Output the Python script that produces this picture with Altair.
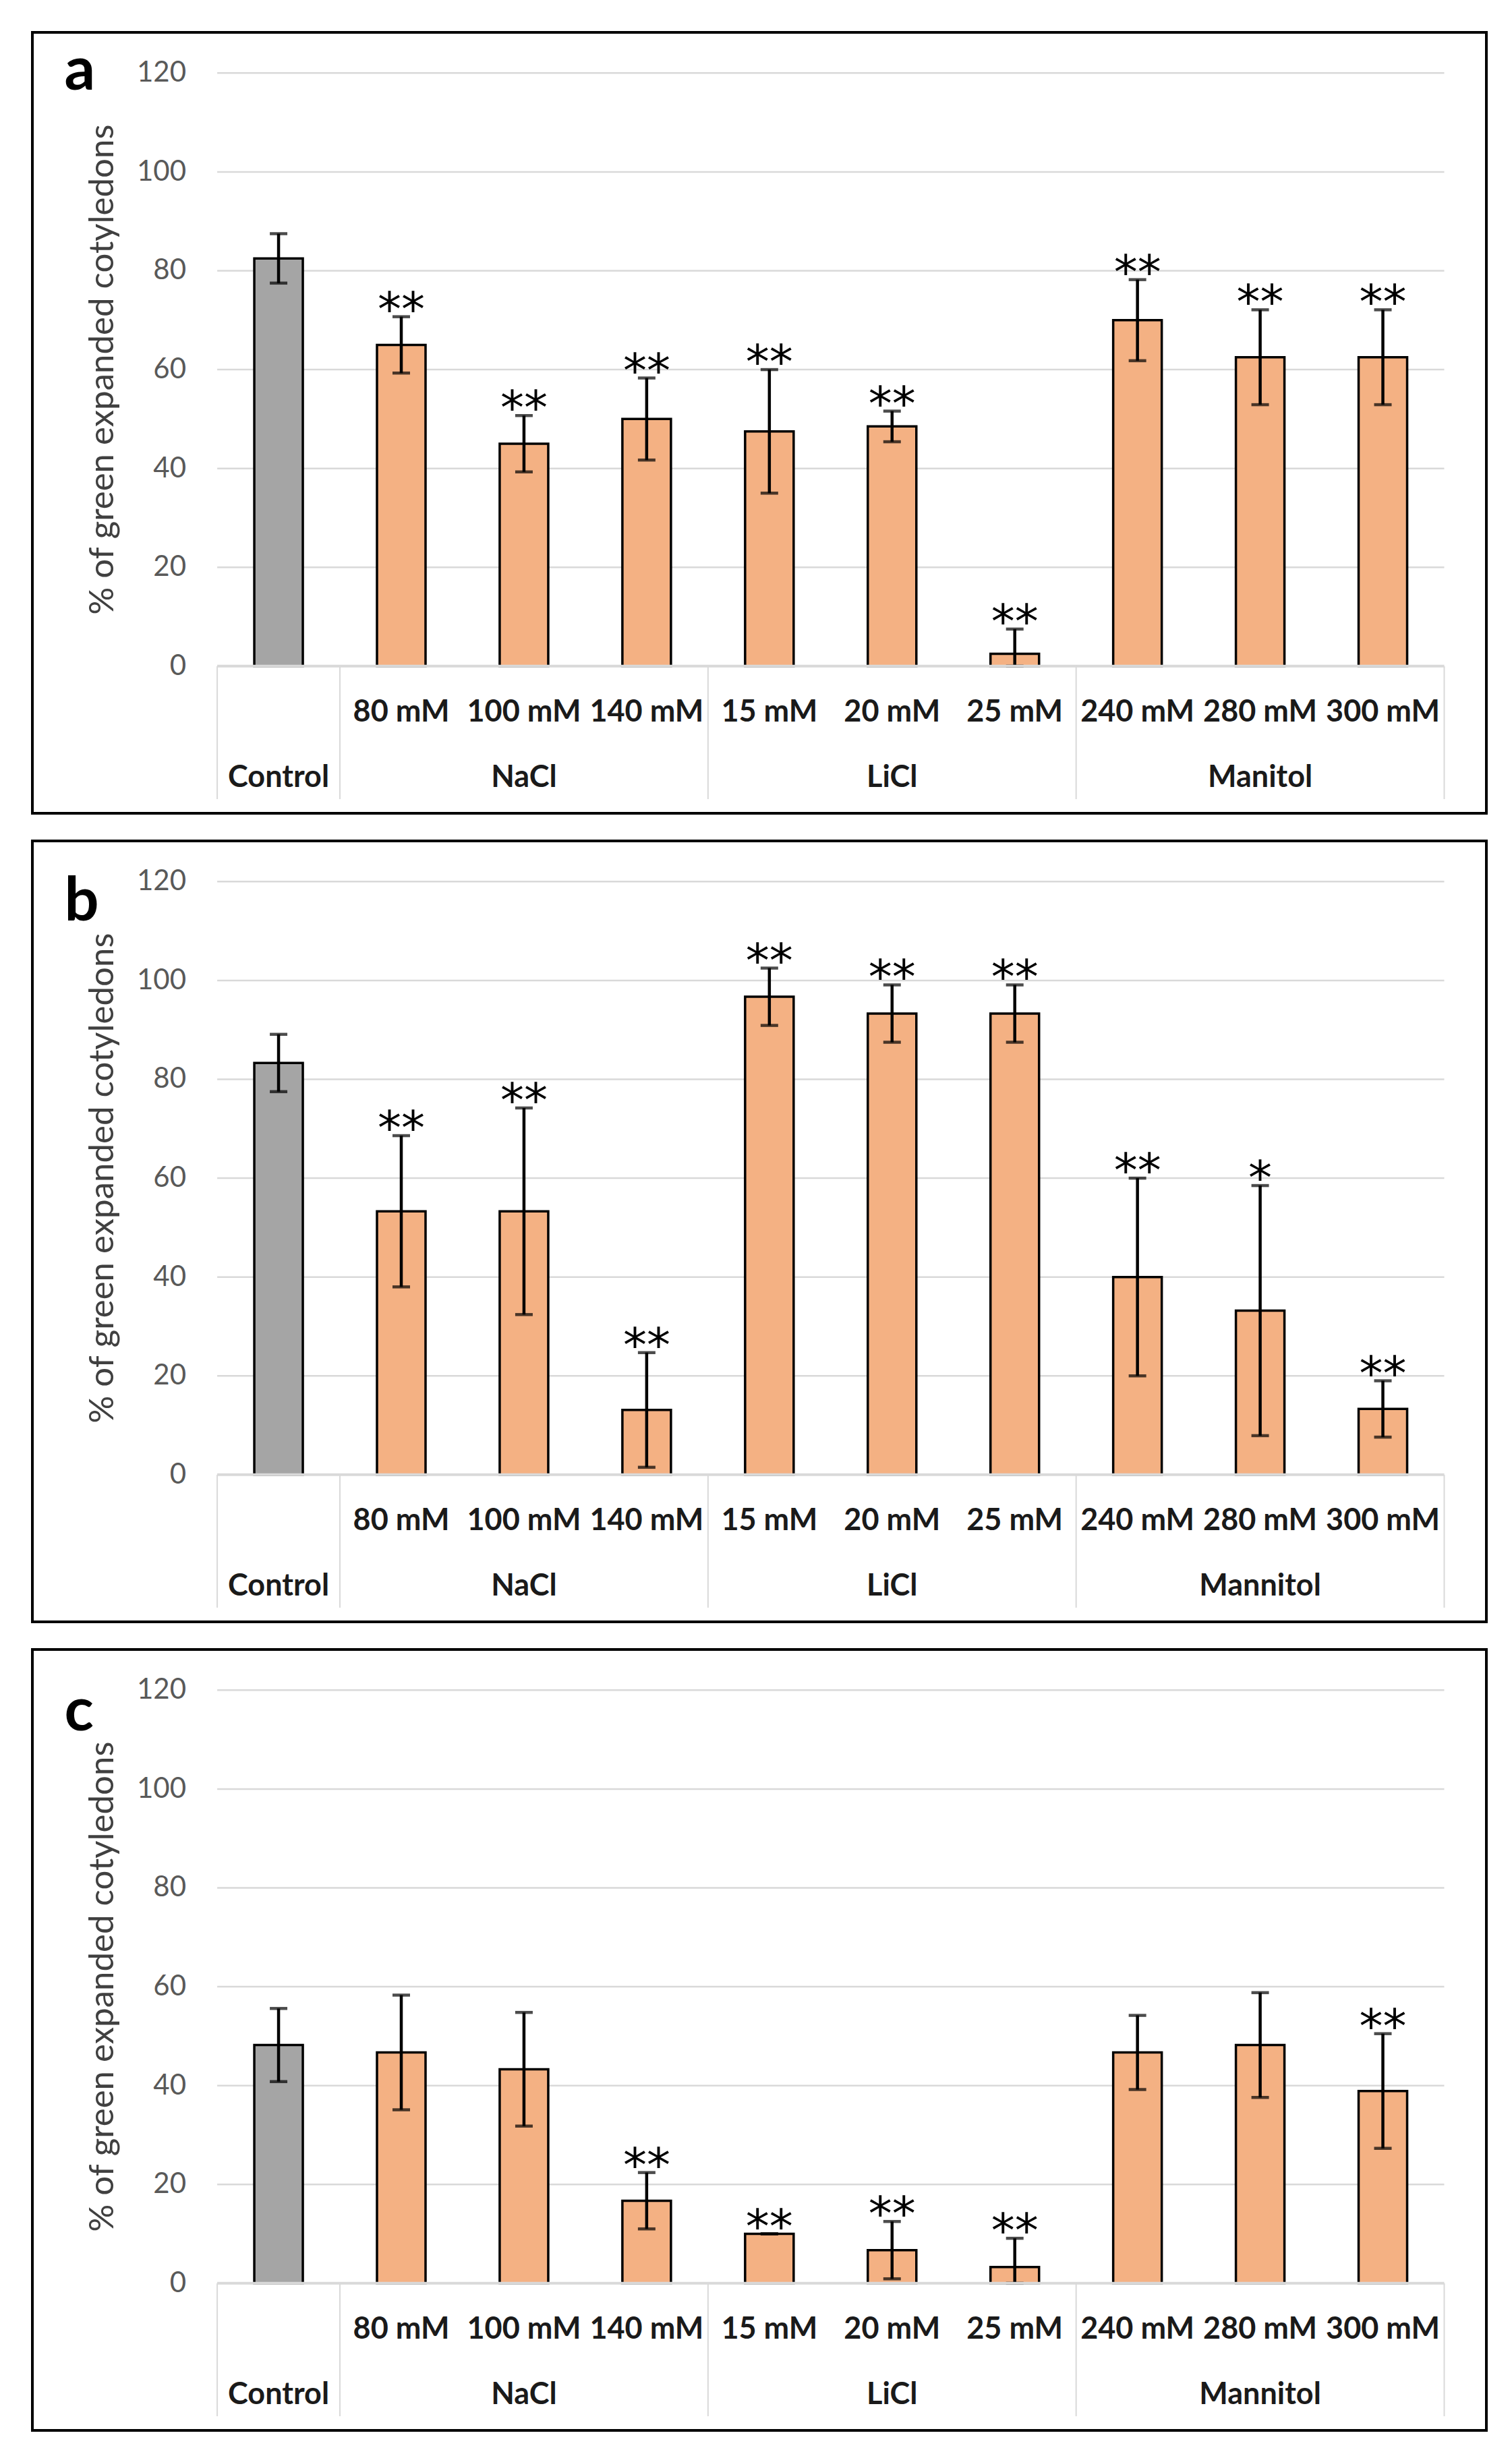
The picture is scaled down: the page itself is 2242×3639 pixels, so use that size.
import altair as alt
import pandas as pd

# ---------------- data ----------------
categories = ["Control", "80 mM", "100 mM", "140 mM", "15 mM", "20 mM", "25 mM",
              "240 mM", "280 mM", "300 mM"]
sub_labels = ["", "80 mM", "100 mM", "140 mM", "15 mM", "20 mM", "25 mM",
              "240 mM", "280 mM", "300 mM"]
is_control = [True, False, False, False, False, False, False, False, False, False]

group_names_a = ["Control", "NaCl", "LiCl", "Manitol"]
group_names_bc = ["Control", "NaCl", "LiCl", "Mannitol"]
group_start = [0, 1, 4, 7]
group_end = [1, 4, 7, 10]
separators = [0, 1, 4, 7, 10]
y_ticks = [0, 20, 40, 60, 80, 100, 120]
y_title = "% of green expanded cotyledons"

mean_a = [82.5, 65.0, 45.0, 50.0, 47.5, 48.5, 2.5, 70.0, 62.5, 62.5]
err_a = [5.0, 5.7, 5.7, 8.3, 12.5, 3.1, 5.0, 8.2, 9.6, 9.6]
sig_a = ["", "**", "**", "**", "**", "**", "**", "**", "**", "**"]

mean_b = [83.3, 53.3, 53.3, 13.1, 96.7, 93.3, 93.3, 40.0, 33.2, 13.3]
err_b = [5.8, 15.3, 20.9, 11.6, 5.8, 5.8, 5.8, 20.0, 25.3, 5.7]
sig_b = ["", "**", "**", "**", "**", "**", "**", "**", "*", "**"]

mean_c = [48.2, 46.7, 43.3, 16.7, 10.0, 6.7, 3.3, 46.7, 48.2, 38.9]
err_c = [7.4, 11.6, 11.5, 5.7, 0.0, 5.8, 5.8, 7.5, 10.6, 11.6]
sig_c = ["", "", "", "**", "**", "**", "**", "", "", "**"]

# ---------------- layout ----------------
W, H = 2156, 1158
X_DOM = [-1.479, 10.316]
Y_DOM = [-29.77, 128.23]
SUB_Y = -9.3
GROUP_Y = -22.5
SEP_BOTTOM = -26.9
LETTER_X = -1.245
TICK_X = -0.253
TITLE_X = -0.93
FONT = "Lato"
ORANGE = "#F4B183"
GREY = "#A5A5A5"
GRID = "#D9D9D9"

xs = alt.Scale(domain=X_DOM, nice=False, zero=False)
ys = alt.Scale(domain=Y_DOM, nice=False, zero=False)


def X(f):
    return alt.X(f, scale=xs, axis=None)


def Y(f):
    return alt.Y(f, scale=ys, axis=None)


def panel(mean, err, sig, group_names, letter, letter_y):
    df = pd.DataFrame({
        "cat": categories,
        "xc": [i + 0.5 for i in range(len(categories))],
        "mean": mean,
        "zero": [0.0] * len(categories),
        "hi": [m + e for m, e in zip(mean, err)],
        "lo": [max(0.0, m - e) for m, e in zip(mean, err)],
        "sig": sig,
        "sub": sub_labels,
        "suby": [SUB_Y] * len(categories),
        "ctrl": ["Control" if c else "Treatment" for c in is_control],
    })
    gdf = pd.DataFrame({
        "name": group_names,
        "gx": [(s + e) / 2 for s, e in zip(group_start, group_end)],
        "gy": [GROUP_Y] * len(group_names),
    })
    grid_df = pd.DataFrame({"v": y_ticks, "x0": [0] * len(y_ticks),
                            "x1": [len(categories)] * len(y_ticks),
                            "lab": [str(t) for t in y_ticks],
                            "tx": [TICK_X] * len(y_ticks)})
    base_df = grid_df[grid_df["v"] == 0]
    top_grid = grid_df[grid_df["v"] > 0]
    sep_df = pd.DataFrame({"s": separators, "y0": [0.0] * len(separators),
                           "y1": [SEP_BOTTOM] * len(separators)})
    let_df = pd.DataFrame({"t": [letter], "lx": [LETTER_X], "ly": [letter_y]})
    title_df = pd.DataFrame({"t": [y_title], "x": [TITLE_X], "y": [60.0]})

    grid = alt.Chart(top_grid).mark_rule(color=GRID, strokeWidth=2.5).encode(
        y=Y("v:Q"), x=X("x0:Q"), x2="x1:Q")

    bars = alt.Chart(df).mark_bar(size=72, stroke="black", strokeWidth=3.5).encode(
        x=X("xc:Q"),
        y=Y("mean:Q"),
        y2="zero:Q",
        color=alt.Color("ctrl:N", scale=alt.Scale(domain=["Control", "Treatment"],
                                                  range=[GREY, ORANGE]), legend=None),
    )

    ebar = alt.Chart(df).mark_rule(color="black", strokeWidth=4.5).encode(
        x=X("xc:Q"), y=Y("lo:Q"), y2="hi:Q")
    cap_hi = alt.Chart(df).mark_tick(color="black", orient="horizontal", size=26,
                                     thickness=4.5).encode(x=X("xc:Q"), y=Y("hi:Q"))
    cap_lo = alt.Chart(df).mark_tick(color="black", orient="horizontal", size=26,
                                     thickness=4.5).encode(x=X("xc:Q"), y=Y("lo:Q"))

    base = alt.Chart(base_df).mark_rule(color=GRID, strokeWidth=4).encode(
        y=Y("v:Q"), x=X("x0:Q"), x2="x1:Q")

    seps = alt.Chart(sep_df).mark_rule(color=GRID, strokeWidth=2).encode(
        x=X("s:Q"), y=Y("y0:Q"), y2="y1:Q")

    ticklabs = alt.Chart(grid_df).mark_text(font=FONT, fontSize=42, color="#595959",
                                            align="right", baseline="middle").encode(
        x=X("tx:Q"), y=Y("v:Q"), text="lab:N")

    ytitle = alt.Chart(title_df).mark_text(font=FONT, fontSize=51, color="#404040",
                                           angle=270, align="center",
                                           baseline="middle").encode(
        x=X("x:Q"), y=Y("y:Q"), text="t:N")

    subs = alt.Chart(df).mark_text(font=FONT, fontSize=45, fontWeight="bold",
                                   color="#1a1a1a", baseline="middle").encode(
        x=X("xc:Q"), y=Y("suby:Q"), text="sub:N")

    groups = alt.Chart(gdf).mark_text(font=FONT, fontSize=45, fontWeight="bold",
                                      color="#1a1a1a", baseline="middle").encode(
        x=X("gx:Q"), y=Y("gy:Q"), text="name:N")

    stars = alt.Chart(df).mark_text(font="DejaVu Sans", fontSize=70, color="black",
                                    baseline="alphabetic", dy=13).encode(
        x=X("xc:Q"), y=Y("hi:Q"), text="sig:N")

    let = alt.Chart(let_df).mark_text(font=FONT, fontSize=90, fontWeight="bold",
                                      color="black", align="left",
                                      baseline="alphabetic").encode(
        x=X("lx:Q"), y=Y("ly:Q"), text="t:N")

    return alt.layer(grid, bars, ebar, cap_hi, cap_lo, base, seps, ticklabs, ytitle,
                     subs, groups, stars, let).properties(width=W, height=H)


pa = panel(mean_a, err_a, sig_a, group_names_a, "a", 116.7)
pb = panel(mean_b, err_b, sig_b, group_names_bc, "b", 112.1)
pc = panel(mean_c, err_c, sig_c, group_names_bc, "c", 111.8)

chart = alt.vconcat(pa, pb, pc, spacing=37).properties(
    padding={"left": 38, "top": 38, "right": 10, "bottom": 10}
).configure_view(stroke="black", strokeWidth=4)

chart.save("out.html", embed_options={"renderer": "svg", "actions": False})
